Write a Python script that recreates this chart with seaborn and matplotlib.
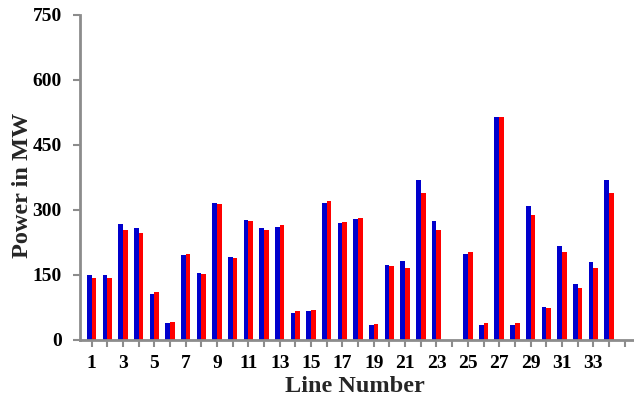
import matplotlib
matplotlib.use("Agg")
import matplotlib.pyplot as plt
import seaborn as sns
import pandas as pd

lines = list(range(1, 35))
blue_vals = [148, 148, 267, 258, 105, 38, 195, 154, 316, 190, 276, 257, 259, 62, 65, 316, 268, 278,
             33, 171, 181, 368, 274, 0, 197, 33, 513, 33, 308, 75, 215, 128, 178, 368]
red_vals = [143, 143, 253, 247, 109, 41, 197, 152, 313, 188, 274, 254, 264, 65, 69, 321, 271, 280,
            36, 169, 166, 339, 253, 0, 202, 38, 515, 38, 288, 72, 202, 120, 166, 339]
series_names = ["Series A", "Series B"]
colors = ["#0000CC", "#FF0000"]
yticks = [0, 150, 300, 450, 600, 750]

df = pd.DataFrame({
    "line": [str(l) for l in lines] * 2,
    "series": [series_names[0]] * len(lines) + [series_names[1]] * len(lines),
    "value": blue_vals + red_vals,
})

sns.set_style("white")
plt.rcParams["font.family"] = ["Liberation Serif", "DejaVu Serif"]
plt.rcParams["font.weight"] = "bold"

fig = plt.figure(figsize=(6.34, 3.99), dpi=100)
ax = fig.add_axes([0.126, 0.149, 0.874, 0.814])

sns.barplot(data=df, x="line", y="value", hue="series", order=[str(l) for l in lines],
            palette=colors, width=0.6, dodge=True, ax=ax, legend=False, saturation=1)
for p in ax.patches:
    p.set_linewidth(0)

ax.set_ylim(0, 750)
ax.set_yticks(yticks)
ax.set_yticklabels([str(v) for v in yticks], fontsize=14, fontweight="bold")
ax.set_xlim(-0.75, 34.6)
ax.set_xticks(range(35))
ax.set_xticklabels([str(i + 1) if i % 2 == 0 and i < 34 else "" for i in range(35)],
                   fontsize=14, fontweight="bold")

for side in ["top", "right"]:
    ax.spines[side].set_visible(False)
for side in ["left", "bottom"]:
    ax.spines[side].set_color("#8c8c8c")
    ax.spines[side].set_linewidth(2)
ax.tick_params(axis="both", which="major", bottom=True, left=True, colors="#8c8c8c",
               width=1.5, length=5, labelcolor="black")
ax.tick_params(axis="x", pad=6)
ax.tick_params(axis="y", pad=8)

ax.set_xlabel("Line Number", fontsize=17.5, fontweight="bold")
ax.set_ylabel("Power in MW", fontsize=17.5, fontweight="bold")
ax.xaxis.set_label_coords((355 - 80) / 554, -(392 - 339.5) / 324.8)
ax.yaxis.set_label_coords(-(80 - 33) / 554, (339.5 - 185) / 324.8)
ax.xaxis.label.set_va("baseline")

fig.savefig("out.png", dpi=100)
